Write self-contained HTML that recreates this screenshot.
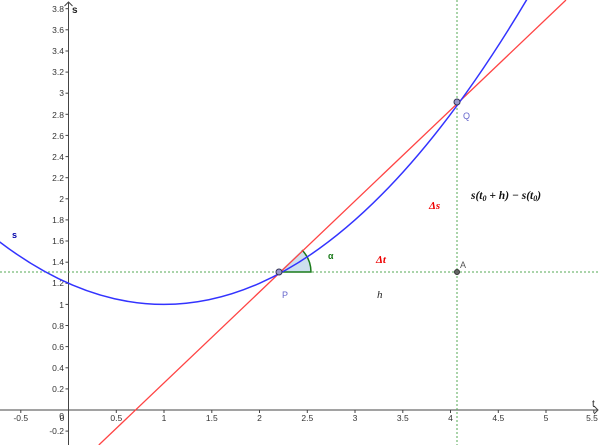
<!DOCTYPE html>
<html><head><meta charset="utf-8"><style>body{margin:0;background:#fff}svg{display:block;font-family:"Liberation Sans",sans-serif}</style></head>
<body>
<svg width="600" height="445" viewBox="0 0 600 445" xmlns="http://www.w3.org/2000/svg">
<rect width="600" height="445" fill="#fff"/>
<g stroke="#444" stroke-width="1" fill="none">
<line x1="0" y1="410" x2="598" y2="410"/>
<line x1="68.5" y1="445" x2="68.5" y2="2"/>
<path d="M594,406 L598,410 L594,414 M64.5,6 L68.5,2 L72.5,6"/>
</g>
<g stroke="#444">
<line x1="20.8" y1="410" x2="20.8" y2="413"/><line x1="116.3" y1="410" x2="116.3" y2="413"/><line x1="164" y1="410" x2="164" y2="413"/><line x1="211.8" y1="410" x2="211.8" y2="413"/><line x1="259.5" y1="410" x2="259.5" y2="413"/><line x1="307.3" y1="410" x2="307.3" y2="413"/><line x1="355" y1="410" x2="355" y2="413"/><line x1="402.8" y1="410" x2="402.8" y2="413"/><line x1="450.5" y1="410" x2="450.5" y2="413"/><line x1="498.3" y1="410" x2="498.3" y2="413"/><line x1="546" y1="410" x2="546" y2="413"/><line x1="593.8" y1="410" x2="593.8" y2="413"/>
</g>
<g font-size="8.5" fill="#333" text-anchor="middle">
<text x="20.8" y="421">-0.5</text><text x="62" y="421">0</text><text x="116.3" y="421">0.5</text><text x="164" y="421">1</text><text x="211.8" y="421">1.5</text><text x="259.5" y="421">2</text><text x="307.3" y="421">2.5</text><text x="355" y="421">3</text><text x="402.8" y="421">3.5</text><text x="450.5" y="421">4</text><text x="498.3" y="421">4.5</text><text x="546" y="421">5</text><text x="592" y="421">5.5</text>
</g>
<text x="592" y="407" font-size="10" fill="#222">t</text>
<text x="72" y="13" font-size="10" fill="#222" font-weight="bold">s</text>
<g stroke="#444">
<line x1="65.5" y1="431.1" x2="68.5" y2="431.1"/><line x1="65.5" y1="388.9" x2="68.5" y2="388.9"/><line x1="65.5" y1="367.8" x2="68.5" y2="367.8"/><line x1="65.5" y1="346.6" x2="68.5" y2="346.6"/><line x1="65.5" y1="325.5" x2="68.5" y2="325.5"/><line x1="65.5" y1="304.4" x2="68.5" y2="304.4"/><line x1="65.5" y1="283.3" x2="68.5" y2="283.3"/><line x1="65.5" y1="262.2" x2="68.5" y2="262.2"/><line x1="65.5" y1="241" x2="68.5" y2="241"/><line x1="65.5" y1="219.9" x2="68.5" y2="219.9"/><line x1="65.5" y1="198.8" x2="68.5" y2="198.8"/><line x1="65.5" y1="177.7" x2="68.5" y2="177.7"/><line x1="65.5" y1="156.6" x2="68.5" y2="156.6"/><line x1="65.5" y1="135.4" x2="68.5" y2="135.4"/><line x1="65.5" y1="114.3" x2="68.5" y2="114.3"/><line x1="65.5" y1="93.2" x2="68.5" y2="93.2"/><line x1="65.5" y1="72.1" x2="68.5" y2="72.1"/><line x1="65.5" y1="51" x2="68.5" y2="51"/><line x1="65.5" y1="29.8" x2="68.5" y2="29.8"/><line x1="65.5" y1="8.7" x2="68.5" y2="8.7"/>
</g>
<g font-size="8.5" fill="#333" text-anchor="end">
<text x="64" y="434">-0.2</text><text x="64" y="419">0</text><text x="64" y="392">0.2</text><text x="64" y="371">0.4</text><text x="64" y="350">0.6</text><text x="64" y="329">0.8</text><text x="64" y="308">1</text><text x="64" y="286">1.2</text><text x="64" y="265">1.4</text><text x="64" y="244">1.6</text><text x="64" y="223">1.8</text><text x="64" y="202">2</text><text x="64" y="181">2.2</text><text x="64" y="160">2.4</text><text x="64" y="139">2.6</text><text x="64" y="118">2.8</text><text x="64" y="96">3</text><text x="64" y="75">3.2</text><text x="64" y="54">3.4</text><text x="64" y="33">3.6</text><text x="64" y="12">3.8</text>
</g>
<g stroke="#5a5" stroke-width="1" stroke-dasharray="2,2">
<line x1="0" y1="272" x2="600" y2="272"/>
<line x1="457" y1="0" x2="457" y2="445"/>
</g>
<path d="M279,272 L311,272 A32,32 0 0 0 302,250 Z" fill="#cde0ee" stroke="none"/>
<path d="M279,272 L311,272 A32,32 0 0 0 302,250" fill="none" stroke="#1a7a1a" stroke-width="1.5"/>
<line x1="98.8" y1="445" x2="566" y2="0" stroke="#f44" stroke-width="1.3"/>
<path d="M-7.9,236 Q259.5,448.9 526.9,-0.6" fill="none" stroke="#33f" stroke-width="1.5"/>
<circle cx="279" cy="272" r="3" fill="#99c" stroke="#335" stroke-width="1"/>
<circle cx="457" cy="102" r="3" fill="#99c" stroke="#335" stroke-width="1"/>
<circle cx="457" cy="272" r="2.5" fill="#666" stroke="#333" stroke-width="1"/>
<text x="282" y="298" font-size="9" fill="#66c">P</text>
<text x="463" y="119" font-size="9" fill="#66c">Q</text>
<text x="460" y="268" font-size="9" fill="#555">A</text>
<text x="12" y="238" font-size="9" fill="#00a" font-weight="bold">s</text>
<text x="328" y="259" font-size="9" fill="#1a7a1a" font-weight="bold">α</text>
<text x="376" y="263" font-size="11" fill="#e00" font-weight="bold" font-style="italic" font-family="Liberation Serif,serif">Δt</text>
<text x="429" y="209" font-size="11" fill="#e00" font-weight="bold" font-style="italic" font-family="Liberation Serif,serif">Δs</text>
<text x="377" y="298" font-size="11" fill="#222" font-style="italic" font-family="Liberation Serif,serif">h</text>
<text x="471" y="199" font-size="11.5" fill="#111" font-weight="bold" font-style="italic" font-family="Liberation Serif,serif">s(t<tspan font-size="8" dy="2">0</tspan><tspan dy="-2"> + h) − s(t</tspan><tspan font-size="8" dy="2">0</tspan><tspan dy="-2">)</tspan></text>
</svg>
</body></html>
